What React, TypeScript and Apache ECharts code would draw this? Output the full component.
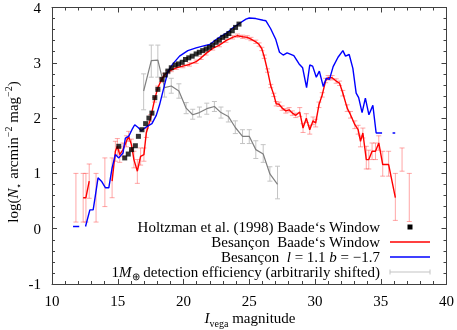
import React, { useEffect, useRef } from "react";
import * as echarts from "echarts";

const FONT = "Liberation Serif";

// Holtzman et al. (1998) Baade's Window: [mag, log N]
const holtzman: number[][] = [
  [15.08, 1.49], [15.53, 1.28], [15.8, 1.35], [16.05, 1.43], [16.34, 1.5], [16.57, 1.67],
  [16.84, 1.79], [17.12, 1.9], [17.37, 2.0], [17.6, 2.09], [17.82, 2.37], [18.05, 2.52],
  [18.36, 2.7], [18.61, 2.78], [18.81, 2.85], [19.07, 2.91], [19.37, 2.96], [19.62, 2.98],
  [19.9, 3.01], [20.15, 3.06], [20.4, 3.09], [20.66, 3.12], [20.96, 3.16], [21.2, 3.19],
  [21.46, 3.22], [21.72, 3.25], [21.97, 3.28], [22.22, 3.32], [22.48, 3.37], [22.73, 3.41],
  [22.98, 3.46], [23.23, 3.49], [23.45, 3.53], [23.71, 3.58], [23.96, 3.64], [24.22, 3.7],
];

// Besançon Baade's Window: segments of [mag, log N, low, high]
const redSegments: number[][][] = [
  [[11.82, 0.56, 0.12, 1.0]],
  [[12.37, 0.56, 0.12, 1.0], [12.58, 0.56, 0.12, 1.0], [12.83, 0.86, 0.55, 1.17]],
  [[13.35, 0.56, 0.12, 1.0]],
  [[14.02, 0.84, 0.4, 1.28]],
  [
    [14.57, 0.86, 0.56, 1.28], [14.82, 1.4, 1.22, 1.58], [14.97, 1.49, 1.33, 1.63],
    [15.15, 1.34, 1.2, 1.48], [15.4, 1.43, 1.3, 1.55], [15.66, 1.58, 1.48, 1.68],
    [15.83, 1.67, 1.58, 1.76], [16.04, 1.52, 1.42, 1.62], [16.23, 1.25, 1.1, 1.4],
    [16.49, 1.04, 0.82, 1.25], [16.74, 1.31, 1.15, 1.46], [16.99, 1.34, 1.22, 1.46],
    [17.17, 1.73, 1.65, 1.81], [17.5, 2.0, 1.94, 2.06], [17.8, 2.33, 2.29, 2.37],
    [18.05, 2.55, 2.52, 2.58], [18.3, 2.68, 2.65, 2.71], [18.55, 2.78, 2.75, 2.81],
    [18.8, 2.83, 2.8, 2.86], [19.07, 2.87, 2.84, 2.9], [19.45, 2.91, 2.88, 2.94],
    [19.95, 2.94, 2.91, 2.97], [20.45, 2.97, 2.94, 3.0], [20.96, 3.02, 2.99, 3.05],
    [21.34, 3.09, 3.06, 3.12], [21.72, 3.17, 3.14, 3.2], [22.22, 3.26, 3.23, 3.29],
    [22.73, 3.32, 3.29, 3.35], [23.23, 3.4, 3.37, 3.43], [23.73, 3.46, 3.43, 3.49],
    [24.11, 3.49, 3.46, 3.52], [24.5, 3.47, 3.44, 3.5], [24.85, 3.46, 3.43, 3.49],
    [25.13, 3.43, 3.4, 3.46], [25.5, 3.38, 3.35, 3.41], [25.75, 3.33, 3.3, 3.36],
    [25.96, 3.25, 3.22, 3.28], [26.14, 3.11, 3.08, 3.14], [26.39, 2.86, 2.83, 2.89],
    [26.64, 2.58, 2.55, 2.61], [26.87, 2.42, 2.39, 2.45], [27.05, 2.26, 2.22, 2.3],
    [27.27, 2.25, 2.21, 2.29], [27.5, 2.18, 2.14, 2.22], [27.78, 2.13, 2.09, 2.17],
    [28.03, 2.15, 2.11, 2.19], [28.28, 2.09, 2.05, 2.13], [28.54, 2.05, 2.01, 2.09],
    [28.84, 2.11, 2.03, 2.19], [29.09, 1.82, 1.74, 1.9], [29.34, 2.0, 1.92, 2.08],
    [29.6, 1.79, 1.71, 1.87], [29.85, 1.95, 1.88, 2.02], [30.05, 1.91, 1.84, 1.98],
    [30.3, 2.24, 2.19, 2.29], [30.55, 2.42, 2.38, 2.46], [30.81, 2.68, 2.64, 2.72],
    [31.0, 2.73, 2.69, 2.77], [31.3, 2.73, 2.69, 2.77], [31.61, 2.67, 2.63, 2.71],
    [31.87, 2.63, 2.59, 2.67], [32.12, 2.45, 2.4, 2.5], [32.45, 2.18, 2.12, 2.24],
    [32.7, 2.06, 2.0, 2.12], [33.03, 1.88, 1.81, 1.95], [33.28, 1.79, 1.71, 1.87],
    [33.46, 1.58, 1.48, 1.68], [33.64, 1.73, 1.64, 1.82], [33.9, 1.25, 1.08, 1.49],
    [34.09, 1.25, 1.08, 1.42], [34.34, 1.4, 1.25, 1.55], [34.6, 1.4, 1.25, 1.55],
    [34.85, 1.55, 1.42, 1.68], [35.15, 1.16, 0.95, 1.4], [35.6, 1.16, 0.95, 1.4],
    [36.11, 0.56, 0.15, 1.0],
  ],
  [[36.62, 1.25, 1.04, 1.46]],
  [[37.17, 0.56, 0.13, 1.0]],
];

// Besançon l = 1.1, b = -1.7: segments of [mag, log N]
const blueSegments: number[][][] = [
  [[11.6, 0.04], [12.07, 0.04]],
  [
    [12.55, 0.04], [12.88, 0.34], [13.13, 0.34], [13.26, 0.54], [13.5, 0.92], [13.76, 0.86],
    [14.07, 0.74], [14.32, 0.74], [14.57, 1.1], [14.82, 1.34], [15.08, 1.28], [15.4, 1.37],
    [15.58, 1.64], [15.83, 1.67], [16.08, 1.79], [16.29, 1.88], [16.55, 1.83], [16.79, 1.77],
    [17.05, 1.82], [17.3, 1.86], [17.6, 1.9], [17.93, 2.05], [18.18, 2.24], [18.43, 2.48],
    [18.81, 2.84], [19.19, 2.98], [19.7, 3.12], [20.33, 3.22], [20.96, 3.27], [21.6, 3.31],
    [22.0, 3.33], [22.48, 3.42], [22.73, 3.46], [23.36, 3.55], [23.73, 3.63], [24.24, 3.71],
    [24.75, 3.79], [25.0, 3.81], [25.5, 3.8], [26.06, 3.77], [26.27, 3.76], [26.62, 3.62],
    [27.02, 3.42], [27.3, 3.19], [27.58, 3.14], [27.88, 3.18], [28.39, 3.13], [28.79, 2.98],
    [29.06, 2.91], [29.36, 2.55], [29.6, 2.96], [29.82, 2.94], [30.1, 2.74], [30.33, 2.85],
    [30.63, 2.57], [30.86, 2.72], [31.1, 2.7], [31.38, 2.93], [31.75, 3.1], [32.12, 3.22],
    [32.32, 3.12], [32.6, 3.15], [32.88, 2.9], [33.13, 2.45], [33.32, 2.37], [33.58, 2.1],
    [33.83, 2.36], [34.1, 2.06], [34.4, 2.23], [34.65, 1.73], [35.1, 1.73],
  ],
  [[35.9, 1.73], [36.1, 1.73]],
];

// 1 M_earth detection efficiency: [mag, value, low, high]
const efficiency: number[][] = [
  [16.97, 2.49, 2.15, 2.8], [17.55, 3.04, 2.74, 3.32], [18.05, 3.05, 2.74, 3.32],
  [18.56, 2.55, 2.38, 2.75], [19.07, 2.58, 2.45, 2.72], [19.65, 2.49, 2.36, 2.62],
  [20.2, 2.18, 2.08, 2.28], [20.7, 2.06, 1.98, 2.16], [21.21, 2.1, 2.02, 2.2],
  [21.77, 2.17, 2.07, 2.27], [22.35, 2.21, 2.12, 2.3], [22.85, 2.1, 2.0, 2.2],
  [23.41, 2.03, 1.93, 2.13], [23.94, 1.83, 1.72, 1.95], [24.49, 1.67, 1.54, 1.79],
  [25.0, 1.67, 1.54, 1.79], [25.5, 1.43, 1.27, 1.59], [26.06, 1.35, 1.2, 1.52],
  [26.57, 0.99, 0.86, 1.12], [27.15, 0.8, 0.54, 1.13],
];

const legendLabels = [
  "Holtzman et al. (1998) Baade‘s Window",
  "Besançon  Baade‘s Window",
  "Besançon  {i|l} = 1.1 {i|b} = −1.7",
  "1{i|M}{sub|⊕} detection efficiency (arbitrarily shifted)",
];

const RED = "#ff0000";
const RED_ERR = "rgba(255,60,60,0.45)";
const BLUE = "#0000ff";
const GREY = "#808080";
const GREY_ERR = "#c4c4c4";
const AXIS = "#404040";

function errorBars(points: number[][], color: string, cap: number, z: number) {
  return {
    type: "custom",
    xAxisIndex: 0,
    yAxisIndex: 0,
    silent: true,
    z,
    clip: true,
    data: points.map((p) => [p[0], p[2], p[3]]),
    encode: { x: 0, y: [1, 2] },
    renderItem: (_params: any, api: any) => {
      const x = api.value(0);
      const a = api.coord([x, api.value(1)]);
      const b = api.coord([x, api.value(2)]);
      const style = { stroke: color, lineWidth: 1, fill: null };
      return {
        type: "group",
        children: [
          { type: "line", shape: { x1: a[0], y1: a[1], x2: b[0], y2: b[1] }, style },
          { type: "line", shape: { x1: a[0] - cap, y1: a[1], x2: a[0] + cap, y2: a[1] }, style },
          { type: "line", shape: { x1: b[0] - cap, y1: b[1], x2: b[0] + cap, y2: b[1] }, style },
        ],
      };
    },
  };
}

function lineSeries(points: number[][], color: string, width: number, z: number) {
  return {
    type: "line",
    xAxisIndex: 0,
    yAxisIndex: 0,
    showSymbol: false,
    symbol: "none",
    silent: true,
    z,
    lineStyle: { color, width },
    data: points.map((p) => [p[0], p[1]]),
  };
}

export default function App() {
  const ref = useRef<HTMLDivElement>(null);
  useEffect(() => {
    if (!ref.current) return;
    const chart = echarts.init(ref.current, undefined, { renderer: "svg" });
    const baseAxis = {
      type: "value",
      axisLine: { show: true, onZero: false, lineStyle: { color: AXIS, width: 1 } },
      axisTick: { show: true, inside: true, length: 5, lineStyle: { color: AXIS } },
      minorTick: { show: true, splitNumber: 5, length: 3, lineStyle: { color: AXIS } },
      splitLine: { show: false },
      minorSplitLine: { show: false },
    };
    const label = { color: "#000", fontFamily: FONT, fontSize: 15 };
    const series: any[] = [];
    series.push(errorBars(efficiency, GREY_ERR, 2.5, 2));
    series.push(lineSeries(efficiency, GREY, 1.2, 3));
    const redAll = redSegments.flat();
    series.push(errorBars(redAll, RED_ERR, 2.5, 4));
    redSegments.forEach((seg) => {
      if (seg.length > 1) series.push(lineSeries(seg, RED, 1.4, 5));
    });
    blueSegments.forEach((seg) => series.push(lineSeries(seg, BLUE, 1.4, 6)));
    series.push({
      type: "scatter",
      xAxisIndex: 0,
      yAxisIndex: 0,
      symbol: "rect",
      symbolSize: 5,
      silent: true,
      z: 7,
      itemStyle: { color: "#000" },
      data: holtzman,
    });

    const lx = 380;
    const ly = [227, 242, 257, 272];
    const rich = {
      i: { fontFamily: FONT, fontSize: 15, fontStyle: "italic", fill: "#000" },
      sub: { fontFamily: FONT, fontSize: 10, fill: "#000", verticalAlign: "bottom", lineHeight: 18 },
      sup: { fontFamily: FONT, fontSize: 10, fill: "#000", verticalAlign: "top", lineHeight: 18 },
    };
    const graphics: any[] = legendLabels.map((t, k) => ({
      type: "text",
      x: lx,
      y: ly[k],
      style: {
        text: t,
        fontFamily: FONT,
        fontSize: 15,
        fill: "#000",
        align: "right",
        verticalAlign: "middle",
        rich,
      },
    }));
    graphics.push({ type: "rect", shape: { x: 407.5, y: ly[0] - 2.5, width: 5, height: 5 }, style: { fill: "#000" } });
    graphics.push({ type: "line", shape: { x1: 390, y1: ly[1], x2: 430, y2: ly[1] }, style: { stroke: RED, lineWidth: 1.4 } });
    graphics.push({ type: "line", shape: { x1: 390, y1: ly[2], x2: 430, y2: ly[2] }, style: { stroke: BLUE, lineWidth: 1.4 } });
    graphics.push({ type: "line", shape: { x1: 390, y1: ly[3], x2: 430, y2: ly[3] }, style: { stroke: GREY_ERR, lineWidth: 1.2 } });
    graphics.push({ type: "line", shape: { x1: 390, y1: ly[3] - 2.5, x2: 390, y2: ly[3] + 2.5 }, style: { stroke: GREY_ERR, lineWidth: 1 } });
    graphics.push({ type: "line", shape: { x1: 430, y1: ly[3] - 2.5, x2: 430, y2: ly[3] + 2.5 }, style: { stroke: GREY_ERR, lineWidth: 1 } });

    const titleRich = {
      i: { fontFamily: FONT, fontSize: 15, fontStyle: "italic", fill: "#000", lineHeight: 20 },
      n: { fontFamily: FONT, fontSize: 15, fill: "#000", lineHeight: 20 },
      sub: { fontFamily: FONT, fontSize: 10, fill: "#000", verticalAlign: "bottom", lineHeight: 20 },
      sup: { fontFamily: FONT, fontSize: 10, fill: "#000", verticalAlign: "top", lineHeight: 20 },
    };
    graphics.push({
      type: "text",
      x: 250,
      y: 318,
      style: {
        text: "{i|I}{sub|vega}{n| magnitude}",
        fontFamily: FONT,
        fontSize: 15,
        fill: "#000",
        align: "center",
        verticalAlign: "middle",
        rich: titleRich,
      },
    });
    graphics.push({
      type: "text",
      x: 13,
      y: 152,
      rotation: Math.PI / 2,
      style: {
        text: "{n|log(}{i|N}{sub|⋆}{n| arcmin}{sup|−2}{n| mag}{sup|−2}{n|)}",
        fontFamily: FONT,
        fontSize: 15,
        fill: "#000",
        align: "center",
        verticalAlign: "middle",
        rich: titleRich,
      },
    });

    chart.setOption({
      animation: false,
      grid: { left: 52, right: 9, top: 5, bottom: 46 },
      xAxis: [
        { ...baseAxis, position: "bottom", min: 10, max: 40, interval: 5, axisLabel: { ...label, margin: 9 } },
        { ...baseAxis, position: "top", min: 10, max: 40, interval: 5, axisLabel: { show: false } },
      ],
      yAxis: [
        { ...baseAxis, position: "left", min: -1, max: 4, interval: 1, axisLabel: { ...label, margin: 11 } },
        { ...baseAxis, position: "right", min: -1, max: 4, interval: 1, axisLabel: { show: false } },
      ],
      series,
      graphic: graphics,
    });
    return () => chart.dispose();
  }, []);
  return <div ref={ref} style={{ position: "fixed", left: 0, top: 0, width: 457, height: 330 }} />;
}
